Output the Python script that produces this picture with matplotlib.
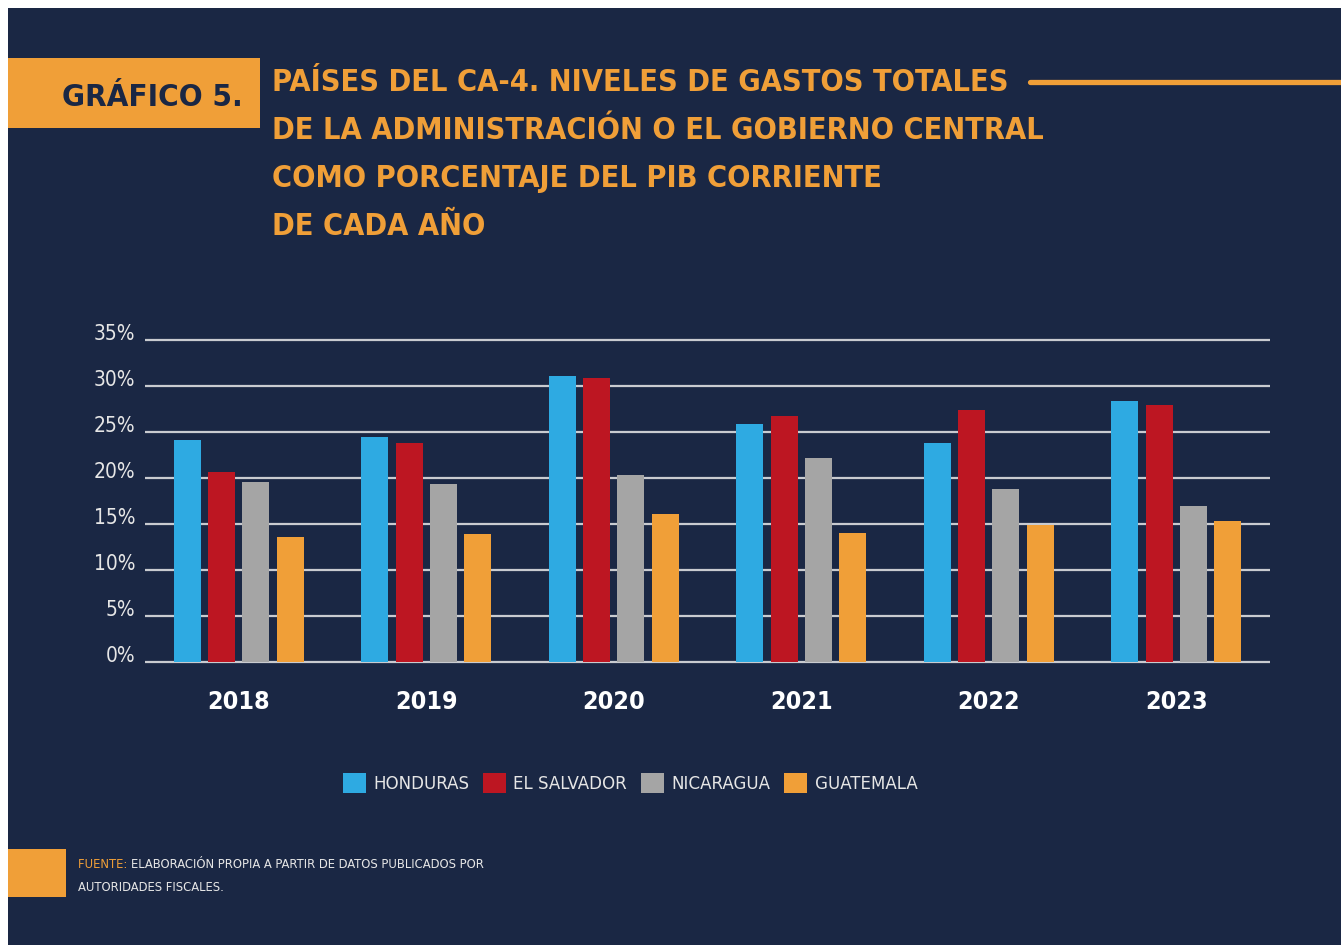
import numpy as np
import matplotlib.pyplot as plt
from matplotlib.patches import Rectangle, Patch

# ============================================
# Datos (porcentaje del PIB)
# ============================================
years = ['2018', '2019', '2020', '2021', '2022', '2023']
honduras = [24.1, 24.5, 31.1, 25.9, 23.8, 28.4]
el_salvador = [20.6, 23.8, 30.9, 26.7, 27.4, 27.9]
nicaragua = [19.6, 19.3, 20.3, 22.2, 18.8, 17.0]
guatemala = [13.6, 13.9, 16.1, 14.0, 14.9, 15.3]
paises = ['HONDURAS', 'EL SALVADOR', 'NICARAGUA', 'GUATEMALA']
yticks = [0, 5, 10, 15, 20, 25, 30, 35]

title_lines = ['PAÍSES DEL CA-4. NIVELES DE GASTOS TOTALES',
               'DE LA ADMINISTRACIÓN O EL GOBIERNO CENTRAL',
               'COMO PORCENTAJE DEL PIB CORRIENTE',
               'DE CADA AÑO']

NAVY = '#1a2744'
ORANGE = '#f09f38'
GRID = '#c9cbd0'
TXT = '#e6e6e6'
colores = ['#2eaae2', '#bd1622', '#a5a5a5', '#f09f38']
NARROW = ['Liberation Sans Narrow', 'DejaVu Sans']

W, H = 1341, 947
fig = plt.figure(figsize=(W / 100, H / 100), dpi=100, facecolor='white')

# fondo en coordenadas de pixel
bg = fig.add_axes([0, 0, 1, 1])
bg.set_xlim(0, W)
bg.set_ylim(H, 0)
bg.axis('off')
bg.add_patch(Rectangle((8, 8), W - 8, H - 10, color=NAVY, lw=0))

# encabezado
bg.add_patch(Rectangle((8, 58), 252, 70, color=ORANGE, lw=0))
bg.text(243, 106, 'GRÁFICO 5.', color=NAVY, fontsize=22.5, fontweight='bold',
        family=NARROW, fontstretch='condensed', ha='right', va='baseline')
for i, line in enumerate(title_lines):
    bg.text(272, 91 + i * 48, line, color=ORANGE, fontsize=22, fontweight='bold',
            family=NARROW, fontstretch='condensed', ha='left', va='baseline')
bg.plot([1030, W], [82, 82], color=ORANGE, lw=3.8, solid_capstyle='round')

# fuente
bg.add_patch(Rectangle((8, 849), 58, 48, color=ORANGE, lw=0))
t1 = bg.text(78, 868, 'FUENTE: ', color=ORANGE, fontsize=9.3, family=NARROW,
             fontstretch='condensed', va='baseline')
bg.annotate('ELABORACIÓN PROPIA A PARTIR DE DATOS PUBLICADOS POR', xy=(1, 0),
            xycoords=t1, va='bottom', ha='left', color=TXT, fontsize=9.3,
            family=NARROW, fontstretch='condensed')
bg.text(78, 891, 'AUTORIDADES FISCALES.', color=TXT, fontsize=9.3, family=NARROW,
        fontstretch='condensed', va='baseline')

# ============================================
# Gráfico de barras
# ============================================
ax = fig.add_axes([145 / W, 1 - 662 / H, 1125 / W, (662 - 340) / H])
ax.set_facecolor('none')
x = np.arange(len(years))
series = [honduras, el_salvador, nicaragua, guatemala]
step, width = 0.183, 0.144
for k, (vals, col) in enumerate(zip(series, colores)):
    ax.bar(x + (k - 1.5) * step, vals, width=width, color=col, zorder=3)

ax.set_xlim(-0.5, len(years) - 0.5)
ax.set_ylim(0, 35)
ax.hlines(yticks, -0.5, len(years) - 0.5, color=GRID, lw=1.6, zorder=1, clip_on=False)
for s in ax.spines.values():
    s.set_visible(False)

ax.set_yticks(yticks)
ax.set_yticklabels([f'{v}%' for v in yticks], color=TXT, fontsize=15,
                   family=NARROW, fontstretch='condensed', va='baseline')
ax.set_xticks(x)
ax.set_xticklabels(years, color='white', fontsize=18, fontweight='bold',
                   family=NARROW, fontstretch='condensed')
ax.tick_params(axis='y', length=0, pad=7)
ax.tick_params(axis='x', length=0, pad=20)

handles = [Patch(facecolor=c, edgecolor='none') for c in colores]
fig.legend(handles, paises, loc='center', bbox_to_anchor=(630 / W, 1 - 783 / H),
           ncol=4, frameon=False, labelcolor=TXT,
           handlelength=1.25, handleheight=1.25, handletextpad=0.4,
           columnspacing=0.75, prop={'family': NARROW, 'size': 13.3, 'stretch': 'condensed'})

fig.savefig('out.png', dpi=100, facecolor='white')
